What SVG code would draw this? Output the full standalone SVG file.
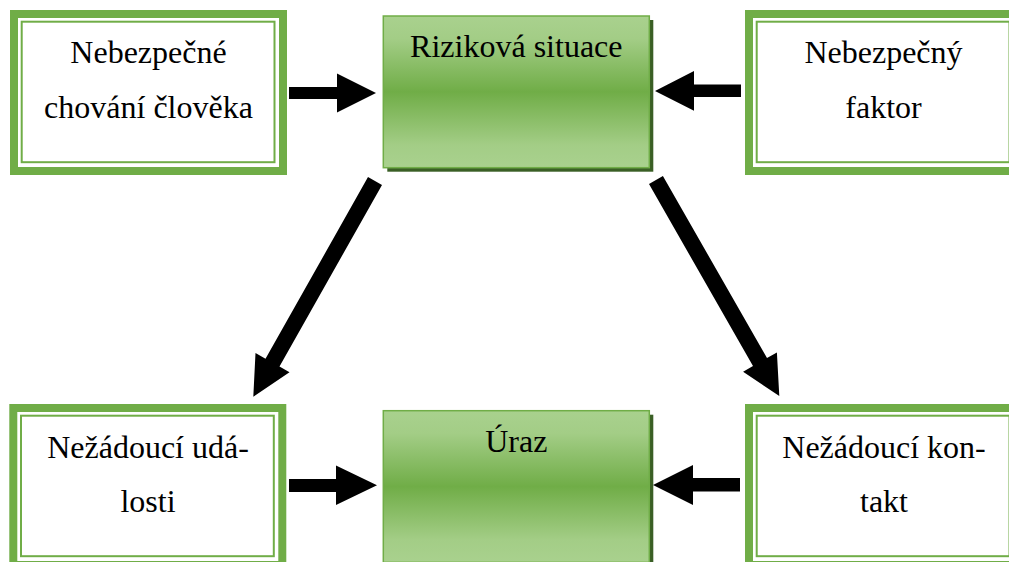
<svg xmlns="http://www.w3.org/2000/svg" width="1009" height="562" viewBox="0 0 1009 562">
<defs>
<linearGradient id="g" x1="0" y1="0" x2="0" y2="1">
<stop offset="0" stop-color="#A9D18E"/>
<stop offset="0.15" stop-color="#A3CD86"/>
<stop offset="0.5" stop-color="#70AD47"/>
<stop offset="0.85" stop-color="#A3CD86"/>
<stop offset="1" stop-color="#A9D18E"/>
</linearGradient>
<style>
.thick{fill:#fff;stroke:#70AD47;stroke-width:8}
.thin{fill:none;stroke:#70AD47;stroke-width:2}
.fill{fill:url(#g);stroke:#70AD47;stroke-width:1.5}
.shadow{fill:#3A5F25}
.lbl{font-family:'Liberation Serif','Times New Roman',Tinos,'DejaVu Serif',serif;font-size:32px;fill:#000;text-anchor:middle}
.arrow{fill:#000}
</style>
</defs>
<rect width="1009" height="562" fill="#fff"/>
<g id="node-nebezpecne-chovani">
<rect class="thick" x="14" y="14" width="269" height="157"/>
<rect class="thin" x="21.7" y="21.7" width="252.8" height="140.5"/>
<text class="lbl" font-family="Liberation Serif, serif" x="148.5" y="63">Nebezpečné</text>
<text class="lbl" font-family="Liberation Serif, serif" x="148.5" y="118">chování člověka</text>
</g>
<g id="node-rizikova-situace">
<rect class="shadow" x="387.3" y="20" width="266" height="151.7"/>
<rect class="fill" x="383.3" y="16" width="266" height="151.7"/>
<text class="lbl" font-family="Liberation Serif, serif" x="516.3" y="57">Riziková situace</text>
</g>
<g id="node-nebezpecny-faktor">
<rect class="thick" x="749" y="14" width="269" height="157"/>
<rect class="thin" x="756.7" y="21.7" width="252.8" height="140.5"/>
<text class="lbl" font-family="Liberation Serif, serif" x="883.5" y="63">Nebezpečný</text>
<text class="lbl" font-family="Liberation Serif, serif" x="883.5" y="118">faktor</text>
</g>
<g id="node-nezadouci-udalosti">
<rect class="thick" x="13.3" y="408" width="269" height="157"/>
<rect class="thin" x="21" y="415.7" width="252.8" height="140.5"/>
<text class="lbl" font-family="Liberation Serif, serif" x="148" y="458">Nežádoucí udá-</text>
<text class="lbl" font-family="Liberation Serif, serif" x="148" y="512">losti</text>
</g>
<g id="node-uraz">
<rect class="shadow" x="387.3" y="414.7" width="266" height="151.7"/>
<rect class="fill" x="383.3" y="410.7" width="266" height="151.7"/>
<text class="lbl" font-family="Liberation Serif, serif" x="516.3" y="451.7">Úraz</text>
</g>
<g id="node-nezadouci-kontakt">
<rect class="thick" x="749" y="408" width="269" height="157"/>
<rect class="thin" x="756.7" y="415.7" width="252.8" height="140.5"/>
<text class="lbl" font-family="Liberation Serif, serif" x="884" y="458">Nežádoucí kon-</text>
<text class="lbl" font-family="Liberation Serif, serif" x="884" y="512">takt</text>
</g>
<g id="connectors">
<polygon class="arrow" points="289,87 337,87 337,73.5 376,93 337,112.5 337,99 289,99"/>
<polygon class="arrow" points="741,84.5 694,84.5 694,71 655,91 694,110.7 694,97 741,97"/>
<polygon class="arrow" points="289,479 336,479 336,465.5 377,485.3 336,505 336,492 289,492"/>
<polygon class="arrow" points="740,478 693,478 693,465 653,485 693,505 693,491.5 740,491.5"/>
<polygon class="arrow" points="368,177.1 382,184.9 279.5,366.6 289.5,372.3 253.3,396.7 255.5,353.1 265.5,358.8"/>
<polygon class="arrow" points="662.9,176 767,358.1 776.9,352.4 779.3,396 743.1,371.8 753,366.1 649,184"/>
</g>
</svg>
